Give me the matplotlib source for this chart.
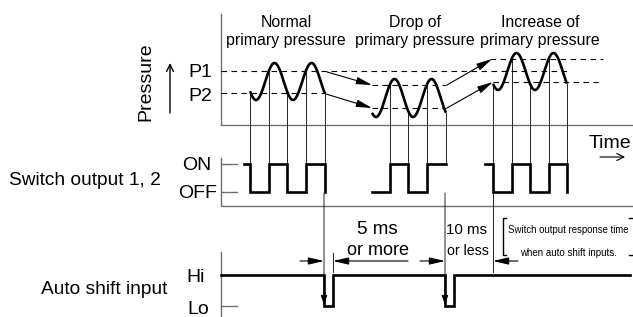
import numpy as np
import matplotlib
matplotlib.use("Agg")
import matplotlib.pyplot as plt

# ---- values (chart units = px from top-left) ----
section_titles = ["Normal", "Drop of", "Increase of"]
title_x = [286, 415, 540]

p1_level = [71, 85, 59]            # upper switch point in each section
p2_level = [93, 108, 82]           # lower switch point in each section
p1_span = [(221, 567), (372, 446), (490, 603)]
p2_span = [(221, 325), (372, 446), (493, 603)]

peak_y = [63, 79, 53]
trough_y = [100, 117, 90]
first_trough = [256, 376, 498]
wave_start = [250, 372, 493]
wave_end = [325, 446, 567]
half_period = 18.5

switch_start = [244, 372, 485]
switch_end = [325, 446, 567]
switch_first = [1, 0, 1]           # 1 = ON, 0 = OFF
switch_edges = [[250, 269, 287, 306, 325], [390, 408, 427],
                [493, 512, 530, 549, 567]]
guide_times = [[250, 269, 287, 306, 325], [390, 408, 427, 446],
               [493, 512, 530, 549, 567]]

on_y, off_y = 164, 192
hi_y, lo_y = 275, 306
shift_pulses = [(324, 333), (445, 454)]

FONT = ["Liberation Sans", "DejaVu Sans"]
GREY = "#707070"

fig = plt.figure(figsize=(6.33, 3.17), dpi=100)
ax = fig.add_axes([0, 0, 1, 1])
ax.set_xlim(0, 633)
ax.set_ylim(317, 0)
ax.axis("off")


def wave_y(i, t):
    mid = (peak_y[i] + trough_y[i]) / 2
    amp = (trough_y[i] - peak_y[i]) / 2
    return mid + amp * np.cos(np.pi * (t - first_trough[i]) / half_period)


def arrow(x0, y0, x1, y1, style="-|>,head_length=0.95,head_width=0.22", lw=0.8):
    ax.annotate("", xy=(x1, y1), xytext=(x0, y0),
                arrowprops=dict(arrowstyle=style, color="black", lw=lw,
                                shrinkA=0, shrinkB=0, mutation_scale=10))


def label(x, y, s, size, ha="center", **kw):
    ax.text(x, y, s, ha=ha, va="baseline", fontsize=size, family=FONT, **kw)


# axes frames
ax.plot([221, 221, 633], [14, 125, 125], color=GREY, lw=1)
ax.plot([221, 221, 633], [158, 206, 206], color=GREY, lw=1)
ax.plot([221, 221], [252, 317], color=GREY, lw=1)
for y in (on_y, off_y, lo_y):
    ax.plot([221, 237], [y, y], color=GREY, lw=1)

# threshold lines
for i in range(3):
    ax.plot(p1_span[i], [p1_level[i]] * 2, color="black", lw=0.8, dashes=(5, 4))
    ax.plot(p2_span[i], [p2_level[i]] * 2, color="black", lw=0.8, dashes=(5, 4))

# pressure waves, guide lines and switch output
for i in range(3):
    t = np.linspace(wave_start[i], wave_end[i], 200)
    ax.plot(t, wave_y(i, t), color="black", lw=1.9, solid_capstyle="butt")
    for g in guide_times[i]:
        ax.plot([g, g], [wave_y(i, g), on_y], color="black", lw=0.6)

    state = switch_first[i]
    xs, ys = [switch_start[i]], [on_y if state else off_y]
    for e in switch_edges[i]:
        xs += [e, e]
        ys += [on_y if state else off_y, off_y if state else on_y]
        state = 1 - state
    xs.append(switch_end[i])
    ys.append(on_y if state else off_y)
    ax.plot(xs, ys, color="black", lw=1.9, solid_joinstyle="miter")

# arrows between sections
arrow(327, 72, 372, 85)
arrow(326, 94, 372, 108)
arrow(447, 85, 492, 59)
arrow(447, 108, 493, 82)

# auto shift input line with pulses
xs, ys = [221], [hi_y]
for a, b in shift_pulses:
    xs += [a, a, b, b]
    ys += [hi_y, lo_y, lo_y, hi_y]
xs.append(630)
ys.append(hi_y)
ax.plot(xs, ys, color="black", lw=1.9, solid_joinstyle="miter")
for a, b in shift_pulses:
    arrow(a, 193, a, lo_y - 1, style="-|>,head_length=0.6,head_width=0.2", lw=0.6)

# timing dimension lines
ax.plot([333, 333], [253, 272], color="black", lw=0.6)
ax.plot([493, 493], [off_y, 272], color="black", lw=0.6)
arrow(300, 261, 324, 261)
arrow(408, 261, 333, 261)
arrow(420, 261, 445, 261)
arrow(518, 261, 493, 261)

# brackets round the note
ax.plot([506, 503, 503, 506], [218, 218, 255, 255], color="black", lw=1)
ax.plot([629, 633.5, 633.5, 629], [218, 218, 255, 255], color="black", lw=1)

# pressure and time arrows
arrow(170, 113, 170, 63, style="->,head_length=0.5,head_width=0.25", lw=1)
arrow(600, 157, 625, 157, style="->,head_length=0.5,head_width=0.25", lw=0.8)

# texts
for x, s in zip(title_x, section_titles):
    label(x, 27, s, 11.4)
    label(x, 45, "primary pressure", 11.4)

ax.text(146, 82, "Pressure", rotation=90, ha="center", va="center",
        fontsize=14, family=FONT)
label(212, 77, "P1", 14, ha="right")
label(212, 101, "P2", 14, ha="right")
label(589, 148, "Time", 14, ha="left")
label(211, 170, "ON", 14, ha="right")
label(217, 198, "OFF", 14, ha="right")
label(9, 185, "Switch output 1, 2", 13.8, ha="left")
label(205, 282, "Hi", 14, ha="right")
label(209, 314, "Lo", 14, ha="right")
label(167, 294, "Auto shift input", 13.8, ha="right")

label(377, 234, "5 ms", 13.5)
label(378, 255, "or more", 13)
label(467, 234, "10 ms", 10.8)
label(468, 255, "or less", 10.2)
label(568, 233, "Switch output response time", 6.9)
label(568, 256, "when auto shift inputs.", 7)

fig.savefig("out.png", dpi=100)
